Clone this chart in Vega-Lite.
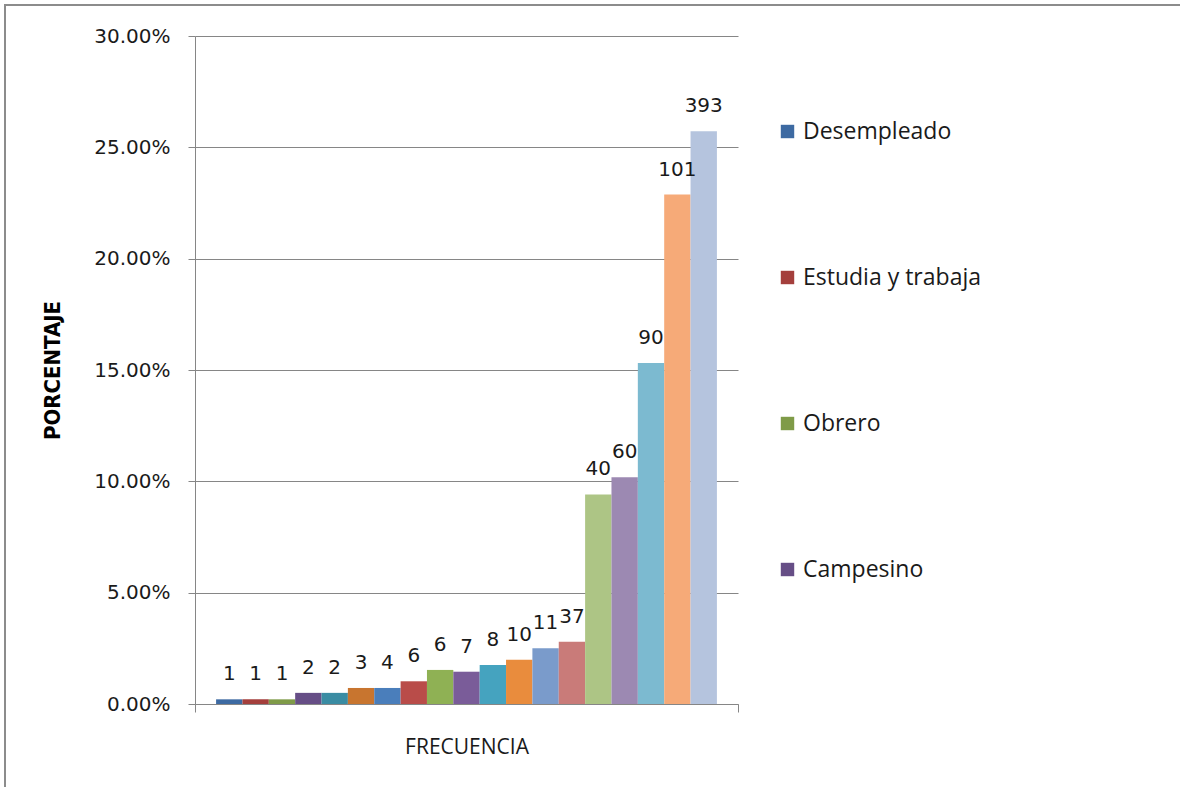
{
  "$schema": "https://vega.github.io/schema/vega-lite/v6.json",
  "autosize": {"type": "none"},
  "padding": {"left": 5, "top": 5, "right": 0, "bottom": 0},
  "width": 1175,
  "height": 782,
  "background": "white",
  "config": {
    "view": {"stroke": "#8c8c8c", "strokeWidth": 2, "strokeDash": [1175, 1957, 782]}
  },
  "data": {
    "values": [
      {"orden": 1, "grupo": "total", "frecuencia": 1, "porcentaje": 0.0021},
      {"orden": 2, "grupo": "total", "frecuencia": 1, "porcentaje": 0.0021},
      {"orden": 3, "grupo": "total", "frecuencia": 1, "porcentaje": 0.0021},
      {"orden": 4, "grupo": "total", "frecuencia": 2, "porcentaje": 0.0050},
      {"orden": 5, "grupo": "total", "frecuencia": 2, "porcentaje": 0.0050},
      {"orden": 6, "grupo": "total", "frecuencia": 3, "porcentaje": 0.0072},
      {"orden": 7, "grupo": "total", "frecuencia": 4, "porcentaje": 0.0072},
      {"orden": 8, "grupo": "total", "frecuencia": 6, "porcentaje": 0.0102},
      {"orden": 9, "grupo": "total", "frecuencia": 6, "porcentaje": 0.0153},
      {"orden": 10, "grupo": "total", "frecuencia": 7, "porcentaje": 0.0145},
      {"orden": 11, "grupo": "total", "frecuencia": 8, "porcentaje": 0.0175},
      {"orden": 12, "grupo": "total", "frecuencia": 10, "porcentaje": 0.0199},
      {"orden": 13, "grupo": "total", "frecuencia": 11, "porcentaje": 0.0250},
      {"orden": 14, "grupo": "total", "frecuencia": 37, "porcentaje": 0.0280},
      {"orden": 15, "grupo": "total", "frecuencia": 40, "porcentaje": 0.0941},
      {"orden": 16, "grupo": "total", "frecuencia": 60, "porcentaje": 0.1018},
      {"orden": 17, "grupo": "total", "frecuencia": 90, "porcentaje": 0.1531},
      {"orden": 18, "grupo": "total", "frecuencia": 101, "porcentaje": 0.2288},
      {"orden": 19, "grupo": "total", "frecuencia": 393, "porcentaje": 0.2572}
    ]
  },
  "encoding": {
    "x": {
      "field": "grupo",
      "type": "nominal",
      "scale": {"range": [190, 733], "paddingInner": 0, "paddingOuter": 0},
      "axis": {
        "title": "FRECUENCIA",
        "labels": false,
        "ticks": true,
        "tickBand": "extent",
        "tickSize": 8,
        "tickColor": "#868686",
        "domainColor": "#868686",
        "grid": false,
        "offset": -83,
        "titleFont": "Open Sans",
        "titleFontSize": 21,
        "titleFontWeight": "normal",
        "titleColor": "#1a1a1a",
        "titlePadding": 24
      }
    },
    "xOffset": {
      "field": "orden",
      "type": "ordinal",
      "scale": {"paddingInner": 0, "paddingOuter": 0.8}
    },
    "y": {
      "field": "porcentaje",
      "type": "quantitative",
      "scale": {"domain": [0, 0.3], "range": [699, 31], "nice": false, "zero": true},
      "axis": {
        "title": "PORCENTAJE",
        "values": [0, 0.05, 0.1, 0.15, 0.2, 0.25, 0.3],
        "format": ".2%",
        "offset": -190,
        "grid": true,
        "gridColor": "#868686",
        "gridWidth": 1,
        "domainColor": "#868686",
        "tickColor": "#868686",
        "tickSize": 7,
        "labelFont": "DejaVu Sans",
        "labelFontSize": 20,
        "labelColor": "#1a1a1a",
        "labelPadding": 18,
        "titleFont": "DejaVu Sans Condensed, Liberation Sans Narrow, sans-serif",
        "titleFontWeight": "bold",
        "titleFontSize": 22,
        "titleColor": "#000000",
        "titlePadding": 29
      }
    }
  },
  "layer": [
    {
      "mark": {"type": "bar"},
      "encoding": {
        "color": {
          "field": "orden",
          "type": "ordinal",
          "scale": {
            "domain": [1, 2, 3, 4, 5, 6, 7, 8, 9, 10, 11, 12, 13, 14, 15, 16, 17, 18, 19],
            "range": ["#3d6aa2", "#a43f3c", "#7f9b48", "#664e86", "#3a8ca3", "#c8752f", "#4a7ebb", "#b94c49", "#8fb154", "#7a5c99", "#45a3bf", "#e98c3d", "#7a9bcb", "#c97b79", "#adc585", "#9c89b2", "#7cbad0", "#f6aa78", "#b5c4de"]
          },
          "legend": {
            "values": [1, 2, 3, 4],
            "labelExpr": "{'1': 'Desempleado', '2': 'Estudia y trabaja', '3': 'Obrero', '4': 'Campesino'}[datum.label]",
            "title": null,
            "orient": "none",
            "legendX": 771,
            "legendY": 115,
            "padding": 0,
            "symbolType": "square",
            "symbolSize": 180,
            "symbolStrokeWidth": 0,
            "labelFont": "Open Sans",
            "labelFontSize": 23,
            "labelLimit": 400,
            "labelColor": "#1a1a1a",
            "labelOffset": 4,
            "rowPadding": 122
          }
        }
      }
    },
    {
      "mark": {
        "type": "text",
        "baseline": "alphabetic",
        "align": "center",
        "dy": -19,
        "font": "DejaVu Sans",
        "fontSize": 20,
        "color": "#1a1a1a"
      },
      "encoding": {
        "text": {"field": "frecuencia", "type": "quantitative"}
      }
    }
  ]
}
